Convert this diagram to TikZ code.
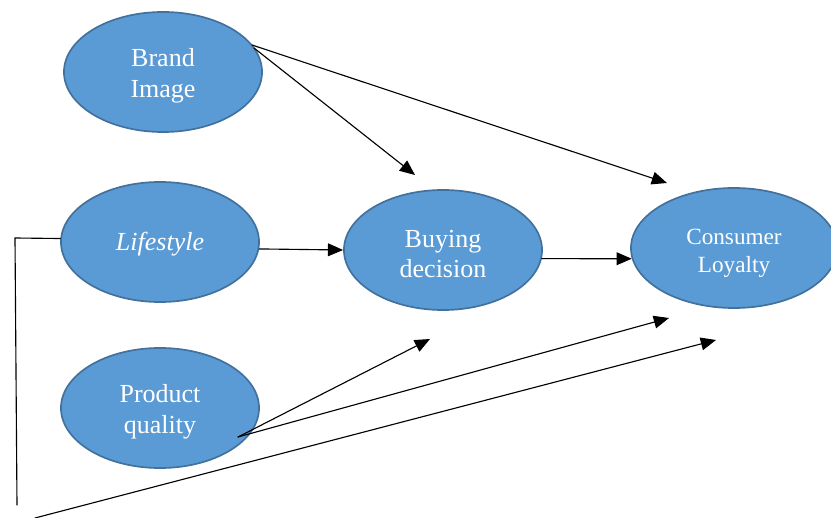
\documentclass[tikz,border=0pt]{standalone}
\usepackage{fontspec}
\setmainfont{Liberation Serif}
\usetikzlibrary{arrows.meta,shapes.geometric}
\definecolor{ovalfill}{HTML}{5B9BD5}
\definecolor{ovaledge}{HTML}{41719C}

\begin{document}
\begin{tikzpicture}[x=0.025cm,y=-0.025cm,>={Triangle[length=3.8mm,width=3.2mm]},line cap=round,
  var/.style={ellipse,draw=ovaledge,fill=ovalfill,line width=1.2pt,text=white,align=center,
    minimum width=4.95cm,minimum height=3cm,text height=40pt,font=\fontsize{18.5}{22}\selectfont},
  link/.style={->,line width=0.8pt}]
\useasboundingbox (0,0) rectangle (831,518);
% variables
\node[var] (brand) at (163,72) {Brand\\Image};
\node[var,text height=15.5pt] (life) at (160,242) {\textit{Lifestyle}};
\node[var] (quality) at (160,408) {Product\\quality};
\node[var] (buying) at (443,250) {Buying\\decision};
\node[var,minimum width=5.15cm,text height=38pt,font=\fontsize{16.5}{20}\selectfont] (loyalty) at (734,248) {Consumer\\Loyalty};
% free ends of the paths
\coordinate (b1) at (252,45);
\coordinate (b2) at (254,48);
\coordinate (q0) at (238,437);
\coordinate (t1) at (415,175);
\coordinate (t2) at (667,183);
\coordinate (t3) at (430,339);
\coordinate (t4) at (669,318);
\coordinate (t5) at (716,340);
\coordinate (c1) at (15,238);
\coordinate (c2) at (17,505);
\coordinate (c3) at (35,518);
% paths
\draw[link] (b2) -- (t1);
\draw[link] (b1) -- (t2);
\draw[link] (life.-4) -- (buying.west);
\draw[link] (buying.-5) -- (loyalty.186);
\draw[link] (q0) -- (t3);
\draw[link] (q0) -- (t4);
\draw[line width=0.8pt] (life.178) -- (c1) -- (c2);
\draw[link] (c3) -- (t5);
\end{tikzpicture}
\end{document}
